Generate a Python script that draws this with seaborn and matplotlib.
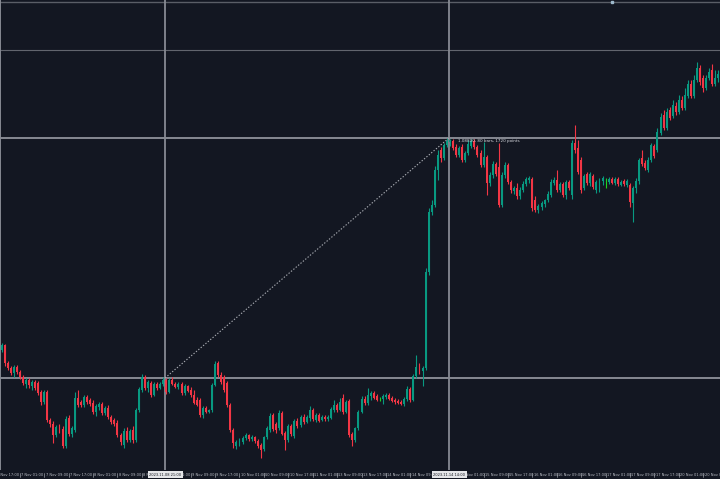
import matplotlib
matplotlib.use("Agg")
import matplotlib.pyplot as plt
import matplotlib.transforms as mtrans
import numpy as np
import pandas as pd
import seaborn as sns

# EURUSD H1 candles, prices in points (1 point = 0.00001)
open_pts = [
    107280,107315,107186,107151,107114,107158,107122,107086,107035,107064,
    107021,107050,107042,106979,106907,106979,106778,106749,106670,106728,
    106713,106591,106792,106677,106706,106936,106907,106885,106943,106921,
    106899,106835,106871,106892,106827,106864,106799,106778,106756,106670,
    106598,106699,106634,106706,106634,106849,106993,107086,107007,107042,
    106957,107035,107007,107035,107064,106979,107064,107035,107014,107035,
    106971,107021,106993,106957,106921,106921,106813,106864,106835,106849,
    107028,107186,107100,107086,107042,106885,106706,106591,106612,106620,
    106649,106670,106641,106656,106627,106598,106569,106656,106706,106813,
    106749,106721,106827,106684,106634,106735,106663,106771,106742,106799,
    106764,106792,106849,106778,106813,106778,106799,106784,106792,106849,
    106885,106849,106936,106835,106914,106677,106634,106721,106835,106928,
    106899,106950,106971,106950,106928,106928,106943,106957,106936,106921,
    106914,106907,106892,106928,106999,106921,107093,107165,107129,107151,
    107839,108269,108319,108570,108714,108657,108749,108771,108778,108735,
    108678,108735,108642,108692,108742,108778,108735,108692,108606,108664,
    108476,108534,108613,108592,108319,108534,108606,108484,108420,108441,
    108384,108427,108469,108498,108505,108355,108283,108305,108326,108355,
    108391,108476,108498,108427,108469,108391,108484,108391,108763,108728,
    108642,108441,108541,108476,108527,108427,108469,108491,108484,108484,
    108505,108476,108505,108462,108491,108462,108462,108333,108441,108491,
    108657,108620,108570,108642,108742,108714,108835,108964,108872,109000,
    108957,109029,108986,109072,109015,109101,109186,109101,109215,109302,
    109230,109158,109230,109287,109186,109230,
]
high_pts = [
    107329,107322,107201,107165,107172,107172,107136,107100,107079,107079,
    107064,107064,107057,106993,106993,106993,106792,106771,106742,106749,
    106735,106806,106813,106735,106979,106993,106921,106957,106957,106936,
    106921,106892,106907,106907,106878,106885,106813,106792,106778,106684,
    106721,106728,106713,106735,106864,107014,107107,107100,107064,107057,
    107050,107050,107050,107086,107079,107079,107086,107050,107050,107050,
    107035,107028,107014,106993,106943,106936,106878,106878,106856,107042,
    107201,107201,107122,107100,107057,106899,106721,106634,106649,106663,
    106684,106677,106670,106663,106641,106612,106663,106735,106827,106827,
    106764,106849,106842,106699,106749,106749,106784,106792,106813,106820,
    106813,106878,106864,106827,106827,106813,106813,106813,106871,106921,
    106899,106936,106964,106921,106928,106692,106728,106849,106950,106950,
    107007,106986,106986,106964,106943,106964,106971,106971,106950,106936,
    106928,106921,106943,107021,107014,107107,107244,107186,107165,107868,
    108298,108355,108599,108714,108735,108763,108800,108792,108792,108756,
    108742,108756,108707,108785,108792,108792,108749,108714,108771,108678,
    108556,108635,108628,108763,108556,108628,108620,108498,108455,108476,
    108448,108491,108520,108527,108520,108384,108326,108348,108362,108420,
    108505,108520,108570,108484,108484,108498,108498,108785,108893,108785,
    108664,108541,108556,108556,108541,108498,108513,108527,108513,108520,
    108520,108520,108520,108498,108505,108505,108476,108455,108513,108657,
    108714,108642,108664,108763,108756,108872,108978,109000,109015,109022,
    109072,109058,109108,109101,109158,109215,109215,109251,109345,109323,
    109251,109251,109302,109330,109287,109287,
]
low_pts = [
    107266,107165,107136,107100,107086,107107,107071,107028,107007,107007,
    106993,106993,106957,106885,106892,106764,106728,106612,106656,106684,
    106577,106577,106663,106656,106692,106871,106871,106871,106892,106878,
    106820,106806,106849,106813,106813,106784,106749,106735,106656,106598,
    106577,106620,106620,106612,106620,106835,106979,106993,106979,106943,
    106950,106993,106999,107021,106964,106971,107028,107007,106999,106957,
    106957,106979,106943,106892,106878,106799,106792,106827,106827,106835,
    107021,107086,107035,106979,106871,106692,106577,106569,106591,106605,
    106634,106627,106627,106612,106577,106506,106556,106641,106692,106699,
    106684,106706,106670,106563,106620,106663,106649,106721,106728,106749,
    106756,106771,106771,106764,106764,106771,106771,106771,106784,106835,
    106835,106842,106820,106827,106656,106591,106620,106706,106827,106885,
    106885,106921,106928,106914,106914,106892,106928,106921,106907,106892,
    106892,106885,106878,106914,106907,106914,107079,107107,107021,107136,
    107817,108247,108305,108498,108628,108642,108735,108742,108714,108664,
    108664,108628,108628,108678,108728,108721,108664,108592,108592,108391,
    108455,108513,108527,108305,108305,108513,108469,108405,108398,108362,
    108362,108413,108455,108476,108276,108269,108262,108283,108305,108341,
    108377,108462,108413,108413,108377,108362,108427,108362,108692,108541,
    108405,108427,108462,108455,108433,108405,108413,108462,108441,108469,
    108469,108462,108455,108455,108455,108448,108305,108198,108405,108469,
    108599,108570,108556,108628,108657,108700,108821,108857,108857,108929,
    108943,108964,108971,109000,109000,109086,109086,109086,109201,109179,
    109129,109144,109215,109172,109172,109201,
]
close_pts = [
    107315,107186,107151,107114,107158,107122,107086,107042,107064,107028,
    107050,107007,106971,106907,106979,106778,106749,106670,106728,106699,
    106591,106784,106677,106721,106936,106885,106885,106943,106907,106892,
    106835,106878,106892,106827,106864,106799,106764,106749,106670,106620,
    106699,106634,106699,106634,106849,106999,107086,107007,107050,106957,
    107035,107007,107035,107064,106979,107064,107035,107014,107035,106971,
    107021,106986,106957,106899,106885,106813,106864,106835,106849,107028,
    107179,107100,107050,106993,106885,106706,106612,106620,106634,106649,
    106670,106641,106656,106627,106591,106563,106656,106721,106806,106713,
    106706,106827,106677,106634,106735,106677,106771,106735,106799,106764,
    106799,106849,106784,106813,106771,106799,106784,106799,106856,106885,
    106849,106907,106835,106907,106670,106634,106721,106835,106928,106899,
    106957,106971,106936,106921,106928,106950,106957,106928,106914,106907,
    106899,106892,106928,106999,106921,107093,107158,107122,107151,107839,
    108269,108319,108570,108678,108657,108749,108778,108785,108728,108678,
    108728,108642,108692,108756,108778,108735,108678,108606,108664,108476,
    108534,108613,108541,108319,108534,108606,108484,108427,108441,108384,
    108427,108469,108505,108513,108298,108283,108312,108333,108355,108398,
    108484,108498,108427,108469,108391,108484,108441,108763,108714,108556,
    108427,108527,108476,108541,108448,108484,108498,108513,108484,108505,
    108476,108505,108469,108484,108469,108491,108341,108441,108491,108642,
    108613,108585,108642,108749,108671,108843,108950,108872,108986,108943,
    109036,108986,109072,109015,109108,109186,109101,109215,109302,109201,
    109158,109230,109273,109186,109230,109258,
]

time_labels = [
    "6 Nov 17:00", "7 Nov 01:00", "7 Nov 09:00", "7 Nov 17:00", "8 Nov 01:00",
    "8 Nov 09:00", "8 Nov 17:00", "9 Nov 01:00", "9 Nov 09:00", "9 Nov 17:00",
    "10 Nov 01:00", "10 Nov 09:00", "10 Nov 17:00", "11 Nov 01:00", "13 Nov 09:00",
    "13 Nov 17:00", "14 Nov 01:00", "14 Nov 09:00", "14 Nov 17:00", "15 Nov 01:00",
    "15 Nov 09:00", "15 Nov 17:00", "16 Nov 01:00", "16 Nov 09:00", "16 Nov 17:00",
    "17 Nov 01:00", "17 Nov 09:00", "17 Nov 17:00", "20 Nov 01:00", "20 Nov 09:00",
]
bars_per_label = 8
first_label_bar = -2

crosshair_bars = [53.6, 146.7]
crosshair_prices = [1.07079, 1.08800]
crosshair_time_labels = ["2023.11.08 21:00", "2023.11.14 14:00"]
measure_text = "1.08800, 80 bars, 1720 points"
level_prices = [1.09775, 1.09431]
price_top, price_bottom = 1.09789, 1.06419

BG = "#131722"
BULL, BEAR, DOJI = "#089981", "#f23645", "#1fd21f"
GRID = "#878a93"

sns.set_theme(style="dark", rc={"axes.facecolor": BG, "figure.facecolor": BG})
plt.rcParams['font.family'] = ['Liberation Sans Narrow', 'DejaVu Sans Condensed', 'DejaVu Sans']

df = pd.DataFrame({
    "open": np.array(open_pts) / 1e5,
    "high": np.array(high_pts) / 1e5,
    "low": np.array(low_pts) / 1e5,
    "close": np.array(close_pts) / 1e5,
})
df["bar"] = np.arange(len(df))
df["high"] = df[["high", "open", "close"]].max(axis=1)
df["low"] = df[["low", "open", "close"]].min(axis=1)
df["color"] = np.where(df.close > df.open, BULL, np.where(df.close < df.open, BEAR, DOJI))

fig = plt.figure(figsize=(7.2, 4.79), dpi=100)
ax = fig.add_axes([0, 9 / 479, 1, 470 / 479])
ax.set_facecolor(BG)
n = len(df)
ax.set_xlim(-0.5, n - 0.5)
ax.set_ylim(price_bottom, price_top)

# level lines and crosshair
ax.axhline(level_prices[0], color="#5a5e67", lw=1.0, zorder=1)
ax.axhline(level_prices[1], color="#62656e", lw=0.8, zorder=1)
for p in crosshair_prices:
    ax.axhline(p, color=GRID, lw=1.4, zorder=1)
for b in crosshair_bars:
    ax.axvline(b, color=GRID, lw=1.3, zorder=1)
ax.axvline(-0.45, color=GRID, lw=1.4, zorder=1)

# candles
ax.vlines(df.bar, df.low, df.high, colors=df.color, lw=0.8, zorder=2)
body_h = (df.close - df.open).abs().clip(lower=0.000012)
ax.bar(df.bar, body_h, bottom=df[["open", "close"]].min(axis=1), width=0.64,
       color=df.color, linewidth=0, zorder=3)

# measurement line + text
ax.plot(crosshair_bars, crosshair_prices, color="#a9acb3", lw=0.8,
        linestyle=(0, (1.2, 1.6)), zorder=4)
ax.text(crosshair_bars[1] + 3.0, crosshair_prices[1] - 0.00025, measure_text,
        fontsize=3.0, color="#d6d8de", ha="left", va="center", zorder=5)
ax.plot([200.2], [level_prices[0]], marker="s", ms=1.6, color="#9db8cc",
        linestyle="none", zorder=5)

# time axis
for s in ax.spines.values():
    s.set_visible(False)
ax.set_yticks([])
ax.set_xticks([])
ax.tick_params(length=0)
trans = mtrans.blended_transform_factory(ax.transData, ax.transAxes)
off = mtrans.ScaledTranslation(1.3 / 100, 0, fig.dpi_scale_trans)
for k, lab in enumerate(time_labels):
    pos = first_label_bar + bars_per_label * k
    ax.plot([pos, pos], [-0.0055, -0.0150], transform=trans, color="#9a9da5",
            lw=0.5, clip_on=False)
    ax.text(pos, -0.0102, lab, transform=trans + off, fontsize=2.6,
            color="#b9bcc4", ha="left", va="center", clip_on=False)
for b, lab in zip(crosshair_bars, crosshair_time_labels):
    ax.text(b, -0.0102, lab, transform=trans, fontsize=2.6, color="#151821",
            ha="center", va="center", clip_on=False, zorder=10,
            bbox=dict(boxstyle="square,pad=0.4", fc="#e4e5e8", ec="none"))

fig.savefig("out.png", dpi=100, facecolor=BG)
